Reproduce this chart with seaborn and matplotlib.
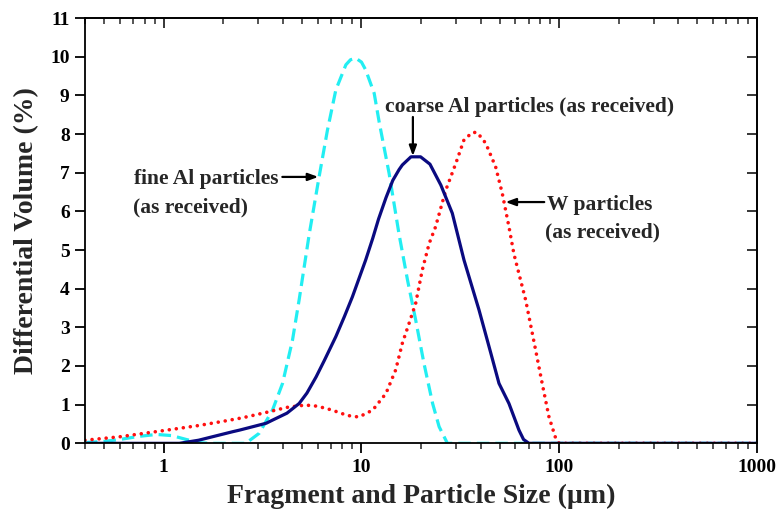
import numpy as np
import pandas as pd
import matplotlib
matplotlib.use("Agg")
import matplotlib.pyplot as plt
import seaborn as sns

# ---- data ----
fine_x = [0.4, 0.5, 0.6, 0.75, 0.92, 1.1, 1.3, 1.5, 1.7, 2.6, 3.04, 3.55, 3.99, 4.48, 4.84,
          5.44, 6.11, 6.73, 7.42, 8.34, 8.8, 9.37, 10.0, 10.5, 11.6, 12.3, 13.8, 15.5, 17.1,
          18.8, 20.7, 22.9, 24.7, 27.2, 100, 1000]
fine_y = [0.02, 0.05, 0.1, 0.18, 0.23, 0.2, 0.1, 0.02, 0.0, 0.0, 0.26, 0.86, 1.55, 2.67, 3.71,
          5.4, 6.9, 8.1, 9.14, 9.79, 9.92, 9.96, 9.86, 9.66, 9.05, 8.3, 6.98, 5.4, 4.22,
          3.19, 2.07, 1.03, 0.43, 0.0, 0.0, 0.0]

coarse_x = [0.4, 1.2, 1.5, 2.23, 2.41, 3.3, 3.55, 4.2, 4.84, 5.3, 5.9, 6.5, 7.42, 8.2, 9.0,
            10.5, 11.4, 12.2, 13.3, 14.4, 15.5, 16.1, 17.8, 19.9, 22.2, 25.2, 28.8, 33.0,
            39.3, 45.0, 49.6, 55.7, 62.6, 66.0, 70.3, 1000]
coarse_y = [0.0, 0.0, 0.08, 0.3, 0.34, 0.52, 0.6, 0.78, 1.03, 1.3, 1.72, 2.15, 2.76, 3.28,
            3.79, 4.74, 5.3, 5.8, 6.35, 6.8, 7.08, 7.2, 7.41, 7.41, 7.22, 6.68, 5.95, 4.74,
            3.45, 2.35, 1.55, 1.03, 0.34, 0.1, 0.0, 0.0]

w_x = [0.4, 0.6, 1.0, 1.5, 2.0, 2.5, 3.3, 4.2, 5.2, 6.0, 7.1, 8.5, 9.7, 11.4, 13.3, 14.9,
       16.1, 17.4, 18.8, 20.3, 22.0, 23.7, 26.7, 30.0, 33.0, 36.4, 38.5, 42.5, 47.7, 51.5,
       55.7, 59.0, 67.7, 76.0, 82.0, 88.7, 96.0, 100, 1000]
w_y = [0.08, 0.17, 0.33, 0.46, 0.57, 0.66, 0.8, 0.93, 0.99, 0.96, 0.86, 0.72, 0.68, 0.86,
       1.29, 1.9, 2.59, 3.1, 3.62, 4.48, 5.17, 5.6, 6.55, 7.24, 7.85, 8.04, 8.04, 7.76, 7.15,
       6.47, 5.6, 4.9, 3.7, 2.41, 1.55, 0.69, 0.13, 0.0, 0.0]

x_ticks = [1, 10, 100, 1000]
x_tick_labels = ["1", "10", "100", "1000"]
y_ticks = list(range(0, 12))

sns.set_style("ticks")
plt.rcParams["font.family"] = ["Liberation Serif", "DejaVu Serif"]
plt.rcParams["font.weight"] = "bold"

fig = plt.figure(figsize=(7.82, 5.19), dpi=100)
ax = fig.add_axes([0.1087, 0.1458, 0.8593, 0.8195])

df_fine = pd.DataFrame({"x": fine_x, "y": fine_y})
df_coarse = pd.DataFrame({"x": coarse_x, "y": coarse_y})
df_w = pd.DataFrame({"x": w_x, "y": w_y})

sns.lineplot(data=df_fine, x="x", y="y", ax=ax, color="#22EEF2", linewidth=2.3,
             linestyle=(0, (3.9, 1.9)), estimator=None, sort=False)
sns.lineplot(data=df_w, x="x", y="y", ax=ax, color="#FF1010", linewidth=2.6,
             linestyle=(0, (0.01, 1.95)), estimator=None, sort=False)
sns.lineplot(data=df_coarse, x="x", y="y", ax=ax, color="#0A0A80", linewidth=2.3,
             estimator=None, sort=False)
lines = ax.get_lines()
lines[1].set_dash_capstyle("round")
lines[0].set_dash_capstyle("butt")
lines[2].set_solid_joinstyle("round")

ax.set_xscale("log")
ax.set_xlim(0.4, 1000)
ax.set_ylim(0, 11)
ax.set_xticks(x_ticks)
ax.set_xticklabels(x_tick_labels)
ax.set_yticks(y_ticks)
ax.set_yticklabels([str(v) for v in y_ticks])
ax.yaxis.set_minor_locator(matplotlib.ticker.NullLocator())

for sp in ax.spines.values():
    sp.set_visible(True)
    sp.set_linewidth(1.3)
    sp.set_color("black")

ax.tick_params(axis="both", which="major", direction="out", length=7, width=1.3,
               labelsize=14, colors="black", pad=4)
ax.tick_params(axis="x", which="minor", direction="out", length=4.5, width=1.1)
for lab in ax.get_xticklabels() + ax.get_yticklabels():
    lab.set_fontweight("bold")

# mirrored inward ticks on top/right
top = ax.secondary_xaxis("top")
top.tick_params(axis="x", which="major", direction="in", length=7, width=1.3, labeltop=False)
top.tick_params(axis="x", which="minor", direction="in", length=4.5, width=1.1)
top.set_xticks(x_ticks)
top.set_xticklabels([])
right = ax.secondary_yaxis("right")
right.set_yticks(y_ticks)
right.tick_params(axis="y", which="major", direction="in", length=7, width=1.3, labelright=False)
right.yaxis.set_minor_locator(matplotlib.ticker.NullLocator())
for s in (top, right):
    for sp in s.spines.values():
        sp.set_linewidth(1.3)

ax.set_xlabel("Fragment and Particle Size (µm)", fontsize=20, fontweight="bold", labelpad=6)
ax.set_ylabel("Differential Volume (%)", fontsize=20, fontweight="bold", labelpad=8)

afs = 15.5
arrow = dict(arrowstyle="-|>,head_length=0.6,head_width=0.22", color="black", lw=1.6,
             shrinkA=0, shrinkB=0)
# fine Al
ax.text(0.71, 6.89, "fine Al particles", fontsize=afs, fontweight="bold",
        ha="left", va="center_baseline")
ax.text(0.70, 6.17, "(as received)", fontsize=afs, fontweight="bold",
        ha="left", va="center_baseline")
ax.annotate("", xy=(6.05, 6.89), xytext=(3.98, 6.89), arrowprops=arrow)
# coarse Al
ax.text(71.1, 8.77, "coarse Al particles (as received)", fontsize=afs, fontweight="bold",
        ha="center", va="center_baseline")
ax.annotate("", xy=(18.2, 7.43), xytext=(18.2, 8.44), arrowprops=arrow)
# W
ax.text(87.0, 6.24, "W particles", fontsize=afs, fontweight="bold",
        ha="left", va="center_baseline")
ax.text(85.0, 5.51, "(as received)", fontsize=afs, fontweight="bold",
        ha="left", va="center_baseline")
ax.annotate("", xy=(53.5, 6.24), xytext=(84.0, 6.24), arrowprops=arrow)

fig.savefig("out.png", dpi=100)
